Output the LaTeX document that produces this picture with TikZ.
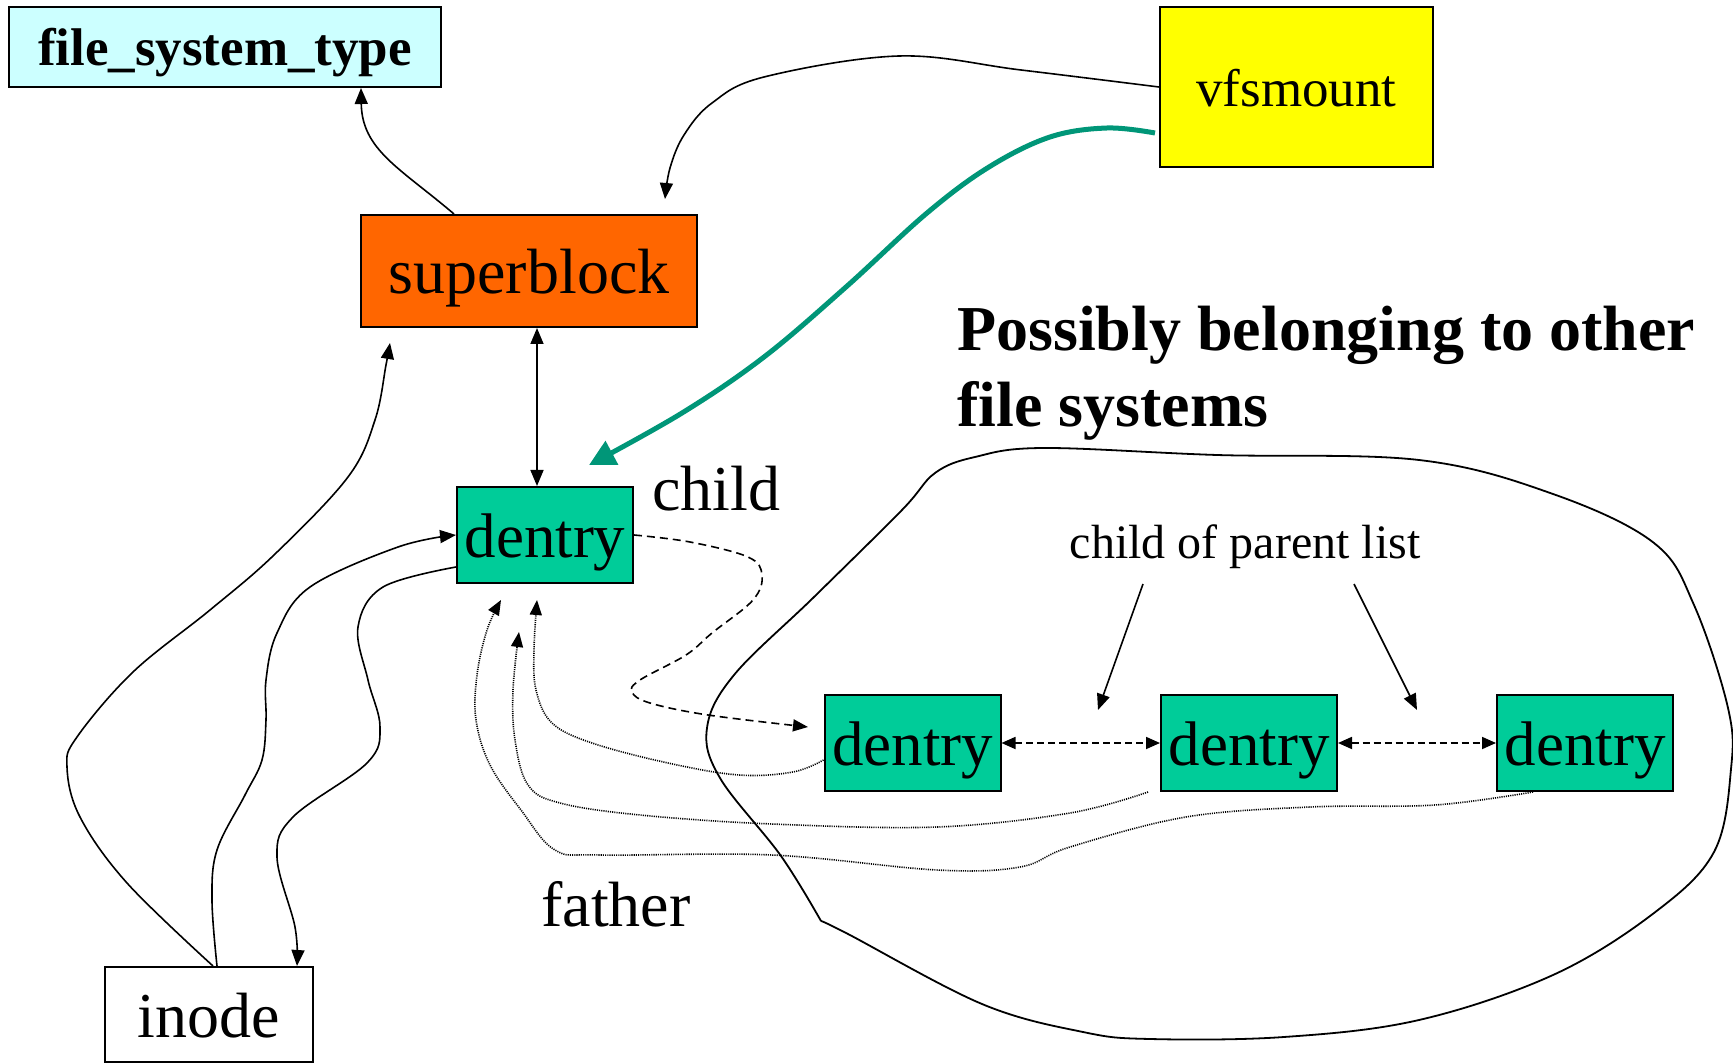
\documentclass[tikz,border=0pt]{standalone}
\usepackage{fontspec}
\setmainfont{Liberation Serif}
\usetikzlibrary{arrows.meta,calc}
\definecolor{fstc}{HTML}{CCFFFF}
\definecolor{sbc}{HTML}{FF6600}
\definecolor{vfsc}{HTML}{FFFF00}
\definecolor{dentc}{HTML}{00CC99}
\definecolor{greenc}{RGB}{0,150,120}
\begin{document}
\begin{tikzpicture}[x=1pt,y=-1pt,
  box/.style={draw=black,line width=2pt,inner sep=0pt,text depth=0pt,anchor=center},
  dentbox/.style={box,fill=dentc,minimum width=176pt,minimum height=96pt,font=\fontsize{63}{76}\selectfont,text height=44pt},
  lbl/.style={inner sep=0pt,anchor=base},
  conn/.style={line width=1.6pt,-{Triangle[length=16pt,width=13pt]}},
  dconn/.style={line width=1.8pt,dash pattern=on 7pt off 4pt,{Triangle[length=14pt,width=12pt]}-{Triangle[length=14pt,width=12pt]}},
  dashconn/.style={line width=1.6pt,dash pattern=on 8pt off 5pt,-{Triangle[length=15pt,width=12pt]}},
  dotconn/.style={line width=1.6pt,dash pattern=on 1.1pt off 1.1pt,-{Triangle[length=15pt,width=12pt]}},
  greenconn/.style={line width=5pt,draw=greenc,-{Triangle[length=26pt,width=26pt]}},
  cloud/.style={line width=1.8pt}
]
\useasboundingbox (0,0) rectangle (1733,1064);

% cloud
\draw[cloud] plot[smooth,tension=0.6] coordinates {(821,921) (781,856) (720,778) (707,728) (734,675) (814,597) (902,510) (935,473) (975,457) (1043,448) (1217,455) (1419,460) (1553,494) (1654,543) (1694,605) (1728,708) (1731,769) (1714,852) (1654,913) (1553,975) (1419,1020) (1284,1037) (1150,1039) (1083,1032) (982,1004) (848,934) (821,921)};

% boxes
\node[box,fill=fstc,minimum width=432pt,minimum height=80pt,font=\bfseries\fontsize{53}{60}\selectfont,text height=37pt] (fst) at (225,47) {file\_system\_type};
\node[box,fill=sbc,minimum width=336pt,minimum height=112pt,font=\fontsize{64}{76}\selectfont,text height=46pt] (sb) at (529,271) {superblock};
\node[box,fill=vfsc,minimum width=273pt,minimum height=160pt,font=\fontsize{53}{64}\selectfont,text height=40pt] (vfs) at (1296.5,87) {vfsmount};
\node[dentbox] (d1) at (545,535) {dentry};
\node[dentbox] (d2) at (912.5,743) {dentry};
\node[dentbox] (d3) at (1249,743) {dentry};
\node[dentbox] (d4) at (1585,743) {dentry};
\node[box,fill=white,minimum width=208pt,minimum height=95pt,font=\fontsize{64}{76}\selectfont,text height=46pt] (ino) at (209,1014.5) {inode};

% labels
\node[lbl,font=\fontsize{64}{76}\selectfont] (child) at (716,510) {child};
\node[lbl,font=\fontsize{64}{76}\selectfont] (father) at (616,926) {father};
\node[lbl,anchor=base west,font=\bfseries\fontsize{64}{76}\selectfont] (poss1) at (957,351) {Possibly belonging to other};
\node[lbl,anchor=base west,font=\bfseries\fontsize{64}{76}\selectfont] (poss2) at (957,427) {file systems};
\node[lbl,font=\fontsize{48}{58}\selectfont] (cpl) at (1245,558) {child of parent list};

% coordinates
\coordinate (sbTop) at ($(sb.north west)+(94,0)$);
\coordinate (fstIn) at ($(fst.south west)+(353,0)$);
\coordinate (sbIn) at (665,199);
\coordinate (gStart) at ($(vfs.west)+(-4,46)$);
\coordinate (gEnd) at (589,465);
\coordinate (inoA) at ($(ino.north)+(4,0)$);
\coordinate (inoB) at ($(ino.north)+(8,0)$);
\coordinate (sbBelow) at (390,343);
\coordinate (d1L) at ($(d1.west)+(0,32)$);
\coordinate (inoIn) at ($(ino.north west)+(193,0)$);
\coordinate (d2In) at (808,727);
\coordinate (cplA) at (1143,584);
\coordinate (cplAe) at (1098,710);
\coordinate (cplB) at (1354,584);
\coordinate (cplBe) at (1417,710);
\coordinate (d2B) at ($(d2.west)+(0,17)$);
\coordinate (d3B) at ($(d3.south west)+(-12,0)$);
\coordinate (d4B) at ($(d4.south west)+(37,0)$);
\coordinate (f1) at (537,600);
\coordinate (f2) at (519,632);
\coordinate (f3) at (501,600);

% connectors
\draw[conn] (sbTop) .. controls (400,168) and (362,150) .. (fstIn);
\draw[conn] plot[smooth,tension=0.6] coordinates {(vfs.west) (1021,70) (899,56) (764,77) (712,103) (684,135) (670,168) (sbIn)};
\draw[greenconn] plot[smooth,tension=0.6] coordinates {(gStart) (1107,128) (1050,137) (989,167) (927,213) (846,287) (764,357) (682,413) (gEnd)};
\draw[line width=1.6pt,{Triangle[length=16pt,width=13pt]}-{Triangle[length=16pt,width=13pt]}] ($(sb.south)+(8,0)$) -- ($(d1.north)+(-8,0)$);
\draw[conn] plot[smooth,tension=0.6] coordinates {(inoA) (127,883) (80,817) (67,767) (77,737) (133,672) (210,610) (274,555) (348,477) (375,420) (386,365) (sbBelow)};
\draw[conn] plot[smooth,tension=0.6] coordinates {(inoB) (212,900) (217,850) (245,795) (262,760) (266,720) (266,680) (277,633) (310,587) (398,547) (d1.west)};
\draw[conn] plot[smooth,tension=0.6] coordinates {(d1L) (383,587) (358,627) (368,680) (380,727) (367,763) (293,817) (277,857) (295,927) (inoIn)};
\draw[dashconn] plot[smooth,tension=0.6] coordinates {(d1.east) (690,542) (748,557) (762,575) (753,600) (712,633) (686,655) (640,680) (632,692) (650,703) (708,715) (d2In)};
\draw[dconn] (d2.east) -- (d3.west);
\draw[dconn] (d3.east) -- (d4.west);
\draw[conn] (cplA) -- (cplAe);
\draw[conn] (cplB) -- (cplBe);
\draw[dotconn] plot[smooth,tension=0.6] coordinates {(d2B) (793,772) (739,775) (668,763) (592,743) (552,723) (536,690) (534,650) (f1)};
\draw[dotconn] plot[smooth,tension=0.6] coordinates {(d3B) (1070,813) (937,827) (772,824) (640,815) (560,803) (528,785) (515,740) (513,690) (f2)};
\draw[dotconn] plot[smooth,tension=0.6] coordinates {(d4B) (1435,805) (1310,807) (1186,817) (1070,847) (1020,867) (937,870) (772,855) (601,855) (555,850) (521,810) (490,765) (476,720) (477,675) (487,630) (f3)};
\end{tikzpicture}
\end{document}
